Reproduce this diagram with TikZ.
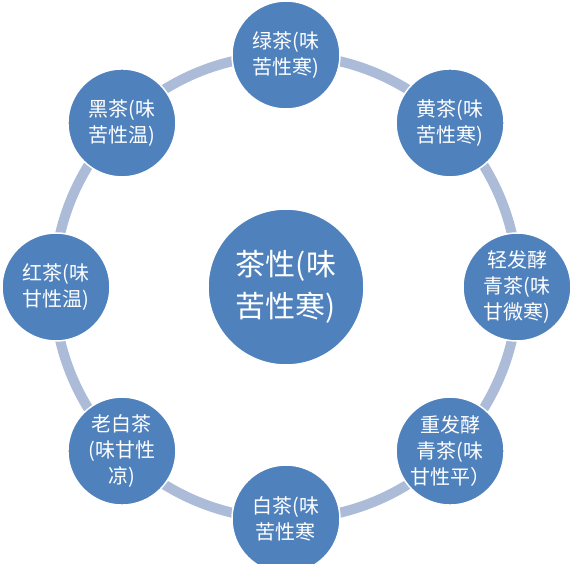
\documentclass[tikz,border=0pt]{standalone}
\usepackage{fontspec}
\setmainfont{Noto Sans CJK SC}
\usepackage{tikz}
\definecolor{teablue}{RGB}{79,129,189}
\definecolor{ringgrey}{RGB}{172,188,216}
\begin{document}
\begin{tikzpicture}[x=1pt,y=1pt]
                \tikzstyle{every node}+=[inner sep=0pt]
                \tikzstyle{tea}=[circle, fill=teablue, draw=white, line width=1.5pt, minimum size=108pt, text=white, align=center, font=\fontsize{20}{25.6}\selectfont]
                \tikzstyle{core}=[tea, minimum size=156pt, font=\fontsize{30}{42}\selectfont]
                \useasboundingbox (-286,-277) rectangle (287,287);
                \clip (-286,-277) rectangle (287,287);
                % ring behind the tea circles
                \coordinate (ring) at (0,0);
                \draw [ringgrey, line width=10pt] (ring) circle (232);
                \node [core] (center) at (0,0) {茶性(味\\苦性寒)};
                \node [tea] (green) at (90:232) {绿茶(味\\苦性寒)};
                \node [tea] (yellow) at (45:232) {黄茶(味\\苦性寒)};
                \node [tea] (light) at (0:231) {轻发酵\\青茶(味\\甘微寒)};
                \node [tea] (heavy) at (-45:232) {重发酵\\青茶(味\\甘性平）};
                \node [tea] (white) at (-90:232) {白茶(味\\苦性寒};
                \node [tea] (oldwhite) at (-135:232) {老白茶\\(味甘性\\凉)};
                \node [tea] (red) at (180:230) {红茶(味\\甘性温)};
                \node [tea] (black) at (135:232) {黑茶(味\\苦性温)};
            \end{tikzpicture}
\end{document}
